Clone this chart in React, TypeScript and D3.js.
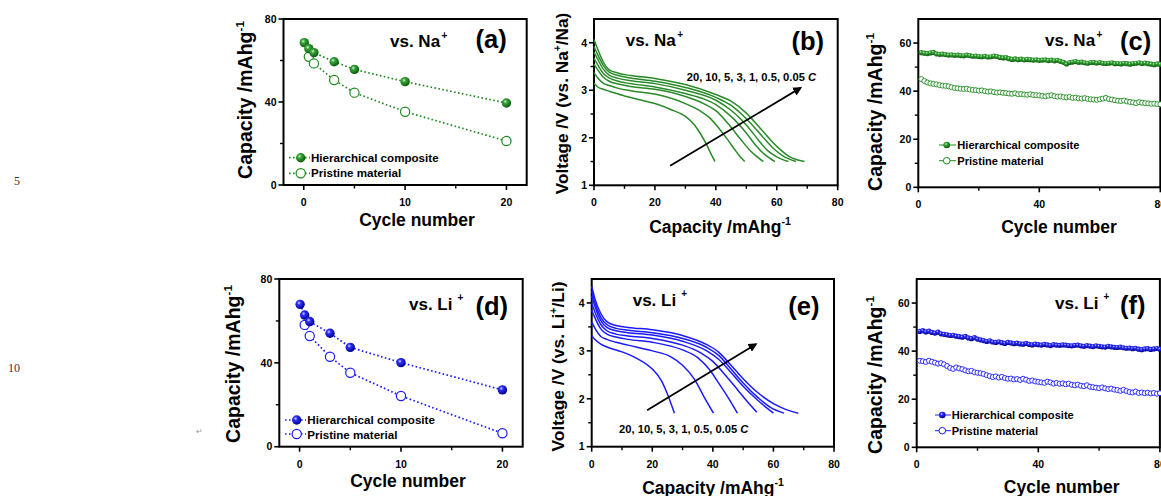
import React from 'react';
import * as d3 from 'd3';

// ---------------- DATA ----------------
const rateHierX = [0.05, 0.5, 1, 3, 5, 10, 20];
const ratePristX = [0.5, 1, 3, 5, 10, 20];
const naRateHier = [68.6, 65.7, 63.8, 59.4, 55.7, 49.8, 39.5];
const naRatePrist = [61.8, 58.6, 50.6, 44.5, 35.3, 21.2];
const liRateHier = [67.9, 62.8, 59.7, 54.1, 47.4, 40.1, 27.1];
const liRatePrist = [58.1, 52.8, 42.9, 35.3, 24.2, 6.4];

type P = [number, number];
// Na discharge curves (capacity, voltage) for 0.05, 0.5, 1, 3, 5, 10, 20 C
const naC005: P[] = [[0,4.07],[1,3.9],[3,3.6],[5,3.43],[8,3.36],[12,3.31],[20,3.25],[30,3.12],[40,2.91],[45,2.77],[50,2.52],[55,2.17],[60,1.82],[64,1.61],[69.1,1.5]];
const naC05: P[] = [[0,3.92],[1,3.78],[3,3.53],[5,3.38],[8,3.31],[12,3.26],[20,3.19],[30,3.06],[40,2.85],[45,2.68],[50,2.4],[55,2.05],[59,1.77],[62,1.62],[66.3,1.5]];
const naC1: P[] = [[0,3.8],[1,3.68],[3,3.45],[5,3.32],[8,3.25],[12,3.2],[20,3.14],[30,3.0],[40,2.79],[45,2.58],[50,2.27],[54,1.95],[57,1.73],[60,1.6],[63.8,1.5]];
const naC3: P[] = [[0,3.67],[1,3.56],[3,3.36],[5,3.26],[8,3.19],[12,3.14],[20,3.07],[30,2.93],[36,2.82],[40,2.7],[45,2.45],[50,2.1],[53,1.85],[56,1.65],[59.4,1.5]];
const naC5: P[] = [[0,3.55],[1,3.45],[3,3.28],[5,3.19],[8,3.13],[12,3.08],[20,3.02],[30,2.87],[36,2.72],[40,2.57],[44,2.3],[48,1.98],[51,1.75],[53,1.63],[55.6,1.5]];
const naC10: P[] = [[0,3.37],[1,3.28],[3,3.15],[5,3.1],[8,3.04],[12,2.99],[20,2.92],[30,2.72],[35,2.56],[38,2.42],[41,2.2],[44,1.95],[46,1.77],[48,1.6],[49.5,1.5]];
const naC20: P[] = [[0,3.15],[1,3.08],[3,3.02],[5,2.98],[10,2.88],[15,2.8],[20,2.72],[25,2.6],[30,2.45],[33,2.27],[35,2.08],[37,1.85],[38.5,1.65],[39.7,1.5]];

// Li discharge curves
const liC005: P[] = [[0,4.35],[1,4.1],[3,3.78],[5,3.61],[8,3.53],[12,3.49],[20,3.44],[30,3.32],[38,3.13],[42,2.97],[46,2.7],[50,2.42],[55,2.12],[60,1.9],[64,1.78],[68.2,1.7]];
const liC05: P[] = [[0,4.25],[1,4.02],[3,3.7],[5,3.55],[8,3.47],[12,3.43],[20,3.38],[30,3.26],[38,3.07],[42,2.9],[46,2.62],[50,2.33],[55,2.02],[59,1.82],[63.5,1.7]];
const liC1: P[] = [[0,4.15],[1,3.94],[3,3.63],[5,3.49],[8,3.42],[12,3.38],[20,3.33],[30,3.2],[38,3.0],[42,2.82],[46,2.55],[50,2.26],[55,1.96],[60,1.7]];
const liC3: P[] = [[0,4.0],[1,3.82],[3,3.55],[5,3.42],[8,3.35],[12,3.31],[20,3.26],[30,3.12],[36,2.96],[40,2.78],[44,2.5],[48,2.2],[51,1.97],[54.5,1.72]];
const liC5: P[] = [[0,3.85],[1,3.7],[3,3.46],[5,3.35],[8,3.29],[12,3.24],[20,3.18],[30,3.02],[35,2.86],[39,2.6],[42,2.32],[45,2.03],[48.1,1.7]];
const liC10: P[] = [[0,3.6],[1,3.48],[3,3.3],[5,3.24],[8,3.18],[12,3.12],[20,3.0],[26,2.88],[30,2.7],[34,2.4],[37,2.05],[40.2,1.7]];
const liC20: P[] = [[0,3.32],[1,3.24],[3,3.14],[5,3.08],[10,2.98],[15,2.84],[20,2.62],[23,2.38],[25,2.1],[27.3,1.7]];

// Cycling data, cycles 1..80
const naCycHier = [56,55.8,55.6,55.9,56.1,55.5,55.3,55.4,55.2,55,55.1,54.9,55,54.8,54.7,55,54.8,54.5,54.6,54.4,
  54.3,54.5,54.2,54.3,54.6,54.4,54,53.8,53.9,53.5,53.2,53.4,53.1,53.3,53.0,53.2,53.1,52.9,53.0,52.8,
  52.9,53.0,52.7,52.9,52.6,52.8,52.4,52.0,51.3,51.9,52.1,52.3,52.0,52.1,51.8,51.6,51.9,52.0,51.7,51.9,
  51.6,51.5,51.6,51.8,51.4,51.5,51.3,51.6,51.4,51.2,51.5,51.6,51.8,51.5,51.7,51.4,51.2,51.0,51.3,51.1];
const naCycPrist = [45.0,44.2,43.6,43.2,43.0,42.8,42.5,42.3,42.2,42.0,41.6,41.3,41.2,41.0,40.9,41.0,40.7,40.5,40.4,40.2,
  40.3,40.0,39.8,39.9,39.6,39.4,39.5,39.3,39.2,39.0,38.9,39.1,38.7,38.8,38.6,38.5,38.7,38.4,38.3,38.2,
  38.0,37.8,38.1,38.3,37.9,37.7,37.8,37.5,37.4,37.6,37.2,37.3,37.0,36.9,37.1,36.8,36.6,36.5,36.4,36.6,
  36.9,37.2,36.7,36.5,36.2,36.0,35.9,36.1,35.7,35.5,35.3,35.0,35.4,35.2,35.0,34.9,34.7,34.8,34.6,34.5];
const liCycHier = [48.2,48.5,48.0,48.3,47.8,47.5,47.9,47.2,47.0,46.8,46.5,46.6,46.2,46.0,45.8,46.1,45.5,45.2,45.6,45.0,
  44.7,44.4,44.0,44.3,43.8,43.6,43.9,43.5,43.2,43.6,43.4,43.1,43.3,43.0,42.9,43.2,42.8,42.6,42.9,42.7,
  42.5,42.8,42.6,42.3,42.7,42.5,42.4,42.6,42.5,42.3,42.2,42.4,42.5,42.2,42.0,42.3,42.1,41.9,42.2,42.0,
  41.8,41.7,42.0,41.8,41.6,41.5,41.7,41.4,41.2,41.3,41.0,41.2,40.8,40.6,40.9,41.0,40.7,40.9,41.1,40.8];
const liCycPrist = [36.0,35.8,35.5,36.0,35.6,35.2,34.8,35.0,34.5,33.8,33.0,32.6,33.2,32.8,32.5,32.0,31.6,31.8,31.2,31.0,
  30.8,30.5,30.0,29.6,29.2,29.5,29.0,29.3,28.8,28.5,28.6,28.2,28.4,28.0,28.5,28.1,27.6,27.8,27.4,27.2,
  27.0,26.8,27.3,27.0,26.5,26.8,26.4,26.6,26.2,26.5,26.0,25.8,26.1,25.6,25.4,25.8,25.2,25.0,24.8,24.6,
  24.9,24.5,24.2,24.4,24.0,23.8,23.5,23.9,23.4,23.0,22.8,23.2,22.6,22.8,22.5,22.7,22.4,22.6,22.3,22.5];

const legendNames = ['Hierarchical composite', 'Pristine material'];
const rateLabel = '20, 10, 5, 3, 1, 0.5, 0.05 ';

// ---------------- STYLE ----------------
const FONT = '"Liberation Sans", Arial, Helvetica, sans-serif';
const GREEN = '#1f8a1f';
const GREEN_LINE = '#2a8a2a';
const BLUE = '#1a1aff';

type Layout = {
  left: number; right: number; top: number; bottom: number;
  xDomain: [number, number]; yDomain: [number, number];
  xMajor: number[]; xMinor: number[]; yMajor: number[]; yMinor: number[];
  yLabel: 'cap' | 'na' | 'li'; yLabelX: number; yLabelCY: number; yLabelSize: number;
  xLabel: 'cycle' | 'cap'; xLabelCX: number; xLabelY: number;
  vs: 'Na' | 'Li'; vsX: number; vsY: number;
  tag: string; tagX: number; tagY: number;
};

const LA: Layout = { left: 283.5, right: 526.7, top: 19, bottom: 185, xDomain: [-2, 22], yDomain: [0, 80],
  xMajor: [0, 10, 20], xMinor: [5, 15], yMajor: [0, 40, 80], yMinor: [20, 60],
  yLabel: 'cap', yLabelX: 252, yLabelCY: 100, yLabelSize: 19.5, xLabel: 'cycle', xLabelCX: 417, xLabelY: 226,
  vs: 'Na', vsX: 390, vsY: 46.7, tag: '(a)', tagX: 475.5, tagY: 48 };
const LB: Layout = { left: 594, right: 837.7, top: 19, bottom: 185.3, xDomain: [0, 80], yDomain: [1, 4.5],
  xMajor: [0, 20, 40, 60, 80], xMinor: [10, 30, 50, 70], yMajor: [1, 2, 3, 4], yMinor: [1.5, 2.5, 3.5, 4.5],
  yLabel: 'na', yLabelX: 568, yLabelCY: 103.5, yLabelSize: 17.2, xLabel: 'cap', xLabelCX: 720, xLabelY: 233,
  vs: 'Na', vsX: 625.7, vsY: 45.7, tag: '(b)', tagX: 791.5, tagY: 50 };
const LC: Layout = { left: 918.3, right: 1160.3, top: 19, bottom: 187.3, xDomain: [0, 80], yDomain: [0, 70],
  xMajor: [0, 40, 80], xMinor: [20, 60], yMajor: [0, 20, 40, 60], yMinor: [10, 30, 50, 70],
  yLabel: 'cap', yLabelX: 882, yLabelCY: 112, yLabelSize: 19.5, xLabel: 'cycle', xLabelCX: 1059, xLabelY: 233,
  vs: 'Na', vsX: 1045, vsY: 45.7, tag: '(c)', tagX: 1120, tagY: 50 };
const LD: Layout = { left: 279.3, right: 522.7, top: 279, bottom: 446.7, xDomain: [-2, 22], yDomain: [0, 80],
  xMajor: [0, 10, 20], xMinor: [5, 15], yMajor: [0, 40, 80], yMinor: [20, 60],
  yLabel: 'cap', yLabelX: 240, yLabelCY: 364, yLabelSize: 19.5, xLabel: 'cycle', xLabelCX: 408, xLabelY: 486.7,
  vs: 'Li', vsX: 409, vsY: 310, tag: '(d)', tagX: 475.5, tagY: 315 };
const LE: Layout = { left: 591.7, right: 834, top: 279, bottom: 446.7, xDomain: [0, 80], yDomain: [1, 4.5],
  xMajor: [0, 20, 40, 60, 80], xMinor: [10, 30, 50, 70], yMajor: [1, 2, 3, 4], yMinor: [1.5, 2.5, 3.5, 4.5],
  yLabel: 'li', yLabelX: 564, yLabelCY: 366.5, yLabelSize: 17.4, xLabel: 'cap', xLabelCX: 713, xLabelY: 494,
  vs: 'Li', vsX: 632.7, vsY: 306, tag: '(e)', tagX: 788.3, tagY: 315 };
const LF: Layout = { left: 916.7, right: 1159.9, top: 279, bottom: 447.3, xDomain: [0, 80], yDomain: [0, 70],
  xMajor: [0, 40, 80], xMinor: [20, 60], yMajor: [0, 20, 40, 60], yMinor: [10, 30, 50, 70],
  yLabel: 'cap', yLabelX: 882, yLabelCY: 375, yLabelSize: 19.5, xLabel: 'cycle', xLabelCX: 1061.7, xLabelY: 492.7,
  vs: 'Li', vsX: 1055, vsY: 309.3, tag: '(f)', tagX: 1120, tagY: 313.5 };

function scales(L: Layout) {
  const x = d3.scaleLinear().domain(L.xDomain).range([L.left, L.right]);
  const y = d3.scaleLinear().domain(L.yDomain).range([L.bottom, L.top]);
  return { x, y };
}

function Frame({ L }: { L: Layout }) {
  const { x, y } = scales(L);
  const tickFont = { fontFamily: FONT, fontWeight: 700, fontSize: 10.5 } as const;
  let ylab: React.ReactNode;
  if (L.yLabel === 'cap') {
    ylab = (<>Capacity /mAhg<tspan dy={-8} fontSize={L.yLabelSize * 0.6}>-1</tspan></>);
  } else {
    const ion = L.yLabel === 'na' ? 'Na' : 'Li';
    ylab = (<>Voltage /V (vs. {ion}<tspan dy={-7} fontSize={L.yLabelSize * 0.6}>+</tspan><tspan dy={7}>/{ion})</tspan></>);
  }
  const xlab = L.xLabel === 'cycle' ? <>Cycle number</> :
    <>Capacity /mAhg<tspan dy={-8} fontSize={10.5}>-1</tspan></>;
  return (
    <g>
      <rect x={L.left} y={L.top} width={L.right - L.left} height={L.bottom - L.top} fill="none" stroke="#000" strokeWidth={2} />
      {L.xMajor.map(t => <line key={'xm' + t} x1={x(t)} x2={x(t)} y1={L.bottom} y2={L.bottom + 5} stroke="#000" strokeWidth={1.6} />)}
      {L.xMinor.map(t => <line key={'xn' + t} x1={x(t)} x2={x(t)} y1={L.bottom} y2={L.bottom + 3.5} stroke="#000" strokeWidth={1.4} />)}
      {L.yMajor.map(t => <line key={'ym' + t} x1={L.left - 5} x2={L.left} y1={y(t)} y2={y(t)} stroke="#000" strokeWidth={1.6} />)}
      {L.yMinor.filter(t => y(t) > L.top + 1).map(t => <line key={'yn' + t} x1={L.left - 3.5} x2={L.left} y1={y(t)} y2={y(t)} stroke="#000" strokeWidth={1.4} />)}
      {L.xMajor.map(t => <text key={'xl' + t} x={x(t)} y={L.bottom + 21} textAnchor="middle" {...tickFont}>{t}</text>)}
      {L.yMajor.map(t => <text key={'yl' + t} x={L.left - 7} y={y(t)} dy="0.36em" textAnchor="end" {...tickFont}>{t}</text>)}
      <text transform={`translate(${L.yLabelX},${L.yLabelCY}) rotate(-90)`} textAnchor="middle"
        fontFamily={FONT} fontWeight={700} fontSize={L.yLabelSize}>{ylab}</text>
      <text x={L.xLabelCX} y={L.xLabelY} textAnchor="middle" fontFamily={FONT} fontWeight={700} fontSize={17.5}>{xlab}</text>
      <text x={L.vsX} y={L.vsY} fontFamily={FONT} fontWeight={700} fontSize={17}>
        {L.vs === 'Na' ? <>vs. Na<tspan dx={1.5} dy={-8} fontSize={10}>+</tspan></> : <>vs. Li<tspan dx={5} dy={-9} fontSize={10}>+</tspan></>}
      </text>
      <text x={L.tagX} y={L.tagY} fontFamily={FONT} fontWeight={700} fontSize={25.5}>{L.tag}</text>
    </g>
  );
}

function RatePanel({ L, hier, prist, color, grad, legend }: {
  L: Layout; hier: number[]; prist: number[]; color: string; grad: string;
  legend: { mx: number; lx0: number; lx1: number; tx: number; rows: { my: number; ty: number }[] };
}) {
  const { x, y } = scales(L);
  const line = d3.line<number>().x((_, i) => 0).y(() => 0);
  const hp = d3.line<number>().x((_, i) => x(rateHierX[i])).y(d => y(d))(hier) || '';
  const pp = d3.line<number>().x((_, i) => x(ratePristX[i])).y(d => y(d))(prist) || '';
  void line;
  const dash = '1.6 2.4';
  return (
    <g>
      <Frame L={L} />
      <path d={hp} fill="none" stroke={color} strokeWidth={1.7} strokeDasharray={dash} />
      <path d={pp} fill="none" stroke={color} strokeWidth={1.7} strokeDasharray={dash} />
      {prist.map((d, i) => <circle key={'p' + i} cx={x(ratePristX[i])} cy={y(d)} r={4.6} fill="#fff" stroke={color} strokeWidth={1.2} />)}
      {hier.map((d, i) => <circle key={'h' + i} cx={x(rateHierX[i])} cy={y(d)} r={4.7} fill={`url(#${grad})`} />)}
      {legend.rows.map((r, i) => (
        <g key={'lg' + i}>
          <line x1={legend.lx0} x2={legend.lx1} y1={r.my} y2={r.my} stroke={color} strokeWidth={1.7} strokeDasharray={dash} />
          {i === 0 ? <circle cx={legend.mx} cy={r.my} r={4.7} fill={`url(#${grad})`} />
            : <circle cx={legend.mx} cy={r.my} r={4.6} fill="#fff" stroke={color} strokeWidth={1.2} />}
          <text x={legend.tx} y={r.ty} fontFamily={FONT} fontWeight={700} fontSize={11.6}>{legendNames[i]}</text>
        </g>
      ))}
    </g>
  );
}

function CurvePanel({ L, curves, color, arrow, label }: {
  L: Layout; curves: P[][]; color: string; arrow: [P, P]; label: { x: number; y: number };
}) {
  const { x, y } = scales(L);
  const gen = d3.line<P>().x(d => x(d[0])).y(d => y(d[1])).curve(d3.curveMonotoneX);
  return (
    <g>
      <Frame L={L} />
      {curves.map((c, i) => <path key={i} d={gen(c) || ''} fill="none" stroke={color} strokeWidth={1.5} />)}
      <line x1={x(arrow[0][0])} y1={y(arrow[0][1])} x2={x(arrow[1][0])} y2={y(arrow[1][1])} stroke="#000" strokeWidth={1.8} markerEnd="url(#arrowHead)" />
      <text x={label.x} y={label.y} fontFamily={FONT} fontWeight={700} fontSize={11.2}>{rateLabel}<tspan fontStyle="italic">C</tspan></text>
    </g>
  );
}

function CyclePanel({ L, hier, prist, color, grad, legend }: {
  L: Layout; hier: number[]; prist: number[]; color: string; grad: string;
  legend: { mx: number; lx0: number; lx1: number; tx: number; rows: { my: number; ty: number }[] };
}) {
  const { x, y } = scales(L);
  const gen = d3.line<number>().x((_, i) => x(i + 1)).y(d => y(d));
  return (
    <g>
      <Frame L={L} />
      <path d={gen(prist) || ''} fill="none" stroke={color} strokeWidth={0.8} />
      {prist.map((d, i) => <circle key={'p' + i} cx={x(i + 1)} cy={y(d)} r={2.5} fill="#fff" stroke={color} strokeWidth={0.9} />)}
      <path d={gen(hier) || ''} fill="none" stroke={color} strokeWidth={0.8} />
      {hier.map((d, i) => <circle key={'h' + i} cx={x(i + 1)} cy={y(d)} r={2.6} fill={`url(#${grad})`} />)}
      {legend.rows.map((r, i) => (
        <g key={'lg' + i}>
          <line x1={legend.lx0} x2={legend.lx1} y1={r.my} y2={r.my} stroke={color} strokeWidth={1} />
          {i === 0 ? <circle cx={legend.mx} cy={r.my} r={3.3} fill={`url(#${grad})`} />
            : <circle cx={legend.mx} cy={r.my} r={3.3} fill="#fff" stroke={color} strokeWidth={1} />}
          <text x={legend.tx} y={r.ty} fontFamily={FONT} fontWeight={700} fontSize={11.1}>{legendNames[i]}</text>
        </g>
      ))}
    </g>
  );
}

export default function App() {
  return (
    <svg width={1161} height={496} viewBox="0 0 1161 496" style={{ position: 'absolute', left: 0, top: 0, background: '#fff' }}>
      <defs>
        <radialGradient id="gG" cx="38%" cy="35%" r="65%">
          <stop offset="0%" stopColor="#d8f5d8" />
          <stop offset="30%" stopColor="#3aa63a" />
          <stop offset="100%" stopColor="#0a5a0a" />
        </radialGradient>
        <radialGradient id="gB" cx="38%" cy="35%" r="65%">
          <stop offset="0%" stopColor="#dde0ff" />
          <stop offset="30%" stopColor="#2f2fff" />
          <stop offset="100%" stopColor="#00008c" />
        </radialGradient>
        <marker id="arrowHead" viewBox="0 0 10 10" refX="8" refY="5" markerWidth="5" markerHeight="5" orient="auto">
          <path d="M0,0 L10,5 L0,10 Z" fill="#000" />
        </marker>
      </defs>
      <rect x={0} y={0} width={1161} height={496} fill="#fff" />
      {/* page artefacts */}
      <text x={14} y={185} fontFamily='"Liberation Serif", "Times New Roman", serif' fontSize={12} fill="#333">5</text>
      <text x={8} y={372} fontFamily='"Liberation Serif", "Times New Roman", serif' fontSize={12} fill="#333">10</text>
      <text x={196} y={434} fontFamily={FONT} fontSize={8} fill="#999">↵</text>

      <RatePanel L={LA} hier={naRateHier} prist={naRatePrist} color={GREEN} grad="gG"
        legend={{ mx: 300.7, lx0: 289, lx1: 310, tx: 311, rows: [{ my: 157.7, ty: 161.5 }, { my: 173.3, ty: 177 }] }} />
      <CurvePanel L={LB} curves={[naC005, naC05, naC1, naC3, naC5, naC10, naC20]} color={GREEN_LINE}
        arrow={[[25, 1.41], [67.8, 3.05]]} label={{ x: 686.7, y: 81 }} />
      <CyclePanel L={LC} hier={naCycHier} prist={naCycPrist} color={GREEN} grad="gG"
        legend={{ mx: 946.7, lx0: 939, lx1: 956, tx: 957.3, rows: [{ my: 145, ty: 149.3 }, { my: 160.7, ty: 164.5 }] }} />
      <RatePanel L={LD} hier={liRateHier} prist={liRatePrist} color={BLUE} grad="gB"
        legend={{ mx: 296.7, lx0: 285, lx1: 306, tx: 307.3, rows: [{ my: 420, ty: 423.5 }, { my: 434, ty: 438.5 }] }} />
      <CurvePanel L={LE} curves={[liC005, liC05, liC1, liC3, liC5, liC10, liC20]} color={BLUE}
        arrow={[[18.3, 1.76], [54.2, 3.14]]} label={{ x: 619, y: 433 }} />
      <CyclePanel L={LF} hier={liCycHier} prist={liCycPrist} color={BLUE} grad="gB"
        legend={{ mx: 942.3, lx0: 935, lx1: 951, tx: 951.7, rows: [{ my: 415, ty: 419.3 }, { my: 430.7, ty: 434.8 }] }} />
    </svg>
  );
}
